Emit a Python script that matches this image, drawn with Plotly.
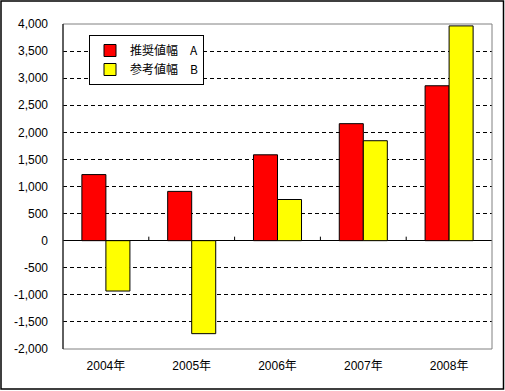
import plotly.graph_objects as go

years = ["2004年", "2005年", "2006年", "2007年", "2008年"]
series_a_name = "推奨値幅　A"
series_b_name = "参考値幅　B"
values_a = [1220, 910, 1585, 2160, 2860]
values_b = [-930, -1717, 760, 1845, 3965]
ytick_vals = [-2000, -1500, -1000, -500, 0, 500, 1000, 1500, 2000, 2500, 3000, 3500, 4000]
ytick_text = ["-2,000", "-1,500", "-1,000", "-500", "0", "500", "1,000", "1,500",
              "2,000", "2,500", "3,000", "3,500", "4,000"]

W, H = 505, 391
L, R, T, B = 63, 13, 24, 42
pw, ph = W - L - R, H - T - B

font = "Liberation Sans, Noto Sans CJK JP, sans-serif"

fig = go.Figure()
fig.add_trace(go.Bar(x=years, y=values_a, name=series_a_name,
                     marker=dict(color="#FF0000", line=dict(color="#000000", width=1))))
fig.add_trace(go.Bar(x=years, y=values_b, name=series_b_name,
                     marker=dict(color="#FFFF00", line=dict(color="#000000", width=1))))

def px_x(px):
    return (px - L) / pw

def px_y(py):
    return (H - B - py) / ph

shapes = []
shapes.append(dict(type="rect", xref="paper", yref="paper", x0=0, x1=1, y0=0, y1=1,
                   line=dict(color="#808080", width=1), layer="above"))
shapes.append(dict(type="line", xref="paper", yref="paper", x0=0, x1=0, y0=0, y1=1,
                   line=dict(color="#000000", width=1), layer="above"))
shapes.append(dict(type="rect", xref="paper", yref="paper",
                   x0=px_x(1), x1=px_x(503.5),
                   y0=px_y(389), y1=px_y(1),
                   line=dict(color="#000000", width=1.5), layer="above"))
for i in range(1, len(years)):
    shapes.append(dict(type="line", xref="x", yref="y", x0=i - 0.5, x1=i - 0.5,
                       ysizemode="pixel", yanchor=0, y0=0, y1=4,
                       line=dict(color="#000000", width=1), layer="above"))

fig.update_layout(
    width=W, height=H,
    margin=dict(l=L, r=R, t=T, b=B),
    paper_bgcolor="white", plot_bgcolor="white",
    barmode="group", bargap=0.44, bargroupgap=0,
    font=dict(family=font, size=12, color="#000000"),
    showlegend=True,
    legend=dict(x=px_x(89), y=px_y(35), xanchor="left", yanchor="top",
                bgcolor="white", bordercolor="#000000", borderwidth=1,
                font=dict(size=12, family="Noto Sans CJK JP, sans-serif"),
                itemwidth=30, tracegroupgap=0),
    shapes=shapes,
    xaxis=dict(showgrid=False, ticks="", showline=False, zeroline=False,
               ticklabelstandoff=8, tickfont=dict(size=12)),
    yaxis=dict(range=[-2000, 4000], tickvals=ytick_vals, ticktext=ytick_text,
               showgrid=True, gridcolor="#000000", griddash="4px,3px", gridwidth=1,
               zeroline=True, zerolinecolor="#000000", zerolinewidth=1,
               showline=False, ticks="", ticklabelstandoff=14, tickfont=dict(size=12)),
)

fig.write_html("out.html")
